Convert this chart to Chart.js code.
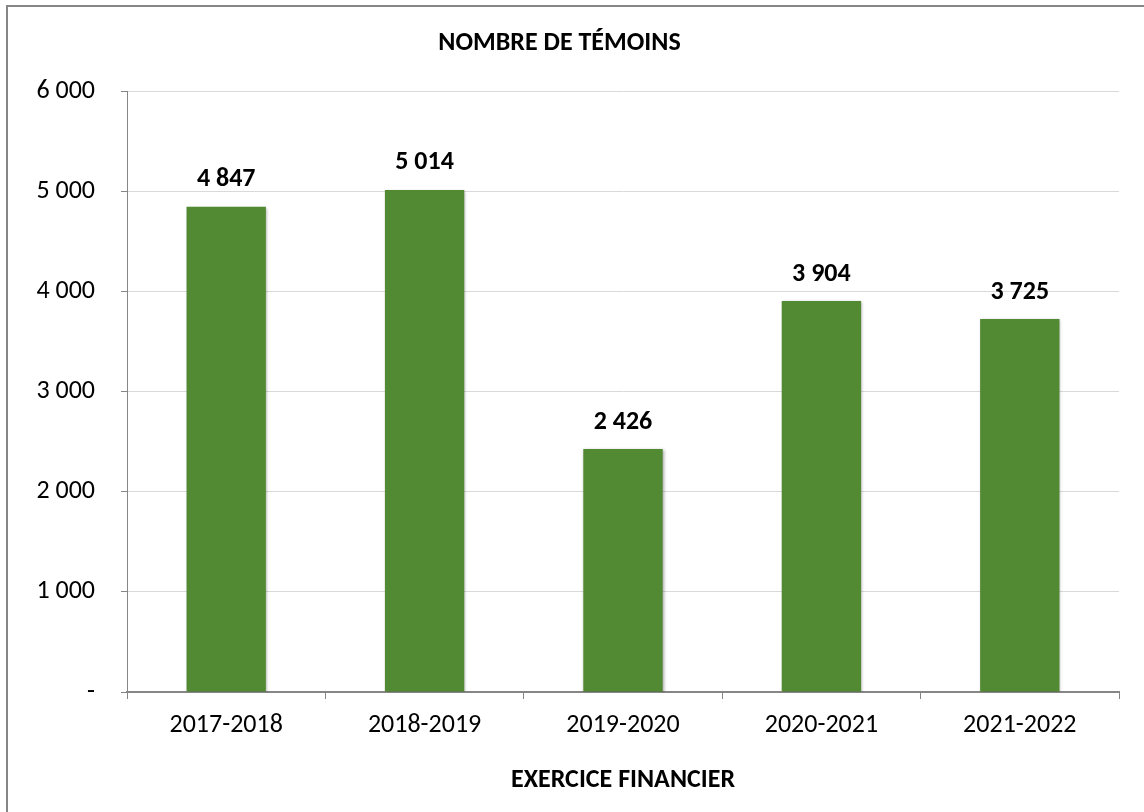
<!DOCTYPE html>
<html>
<head>
<meta charset="utf-8">
<script src="https://cdn.jsdelivr.net/npm/chart.js@4/dist/chart.umd.min.js"></script>
<style>
    html, body { margin: 0; padding: 0; background: #ffffff; overflow: hidden; }
    #wrap { position: relative; width: 1144px; height: 812px; }
    canvas { display: block; }
</style>
</head>
<body>
<div id="wrap"><canvas id="temoinsChart" width="1144" height="812"></canvas></div>
<script>
const categories = ['2017-2018', '2018-2019', '2019-2020', '2020-2021', '2021-2022'];
const temoins = [4847, 5014, 2426, 3904, 3725];
const yTicks = [0, 1000, 2000, 3000, 4000, 5000, 6000];

const chartTitle = 'NOMBRE DE TÉMOINS';
const xTitle = 'EXERCICE FINANCIER';

const fontFamily = "Carlito, 'Open Sans', sans-serif";
const barColor = '#528a33';

// format "4 847" (espace comme séparateur de milliers)
function formatNombre(v) {
    return String(v).replace(/\B(?=(\d{3})+(?!\d))/g, ' ');
}

// cadre gris (seuls les bords haut et gauche sont visibles)
const framePlugin = {
    id: 'frame',
    beforeDraw(chart) {
        const ctx = chart.ctx;
        ctx.save();
        ctx.fillStyle = '#ffffff';
        ctx.fillRect(0, 0, chart.width, chart.height);
        ctx.strokeStyle = '#868686';
        ctx.lineWidth = 2;
        ctx.beginPath();
        ctx.moveTo(7, chart.height);
        ctx.lineTo(7, 6);
        ctx.lineTo(chart.width, 6);
        ctx.stroke();
        ctx.restore();
    }
};

// petite ombre sous les barres
const shadowPlugin = {
    id: 'barShadow',
    beforeDatasetsDraw(chart) {
        const ctx = chart.ctx;
        ctx.save();
        ctx.shadowColor = 'rgba(0, 0, 0, 0.35)';
        ctx.shadowBlur = 3;
        ctx.shadowOffsetX = 1;
        ctx.shadowOffsetY = 1;
    },
    afterDatasetsDraw(chart) {
        chart.ctx.restore();
    }
};

// étiquettes de valeur au-dessus des barres
const valueLabels = {
    id: 'valueLabels',
    afterDatasetsDraw(chart) {
        const ctx = chart.ctx;
        const meta = chart.getDatasetMeta(0);
        ctx.save();
        ctx.font = 'bold 26px ' + fontFamily;
        ctx.fillStyle = '#000000';
        ctx.textAlign = 'center';
        ctx.textBaseline = 'middle';
        meta.data.forEach((bar, i) => {
            ctx.fillText(formatNombre(temoins[i]), bar.x, bar.y - 27);
        });
        ctx.restore();
    }
};

const ctx = document.getElementById('temoinsChart').getContext('2d');
new Chart(ctx, {
    type: 'bar',
    data: {
        labels: categories,
        datasets: [{
            label: chartTitle,
            data: temoins,
            backgroundColor: barColor,
            borderWidth: 0,
            categoryPercentage: 1.0,
            barPercentage: 0.4
        }]
    },
    options: {
        responsive: false,
        animation: false,
        layout: {
            padding: { top: 0, left: 0, right: 25, bottom: 0 }
        },
        plugins: {
            legend: { display: false },
            tooltip: { enabled: false },
            title: {
                display: true,
                text: chartTitle,
                color: '#000000',
                font: { family: fontFamily, size: 26, weight: 'bold' },
                padding: { top: 28, bottom: 32 }
            }
        },
        scales: {
            y: {
                min: 0,
                max: 6000,
                afterBuildTicks(scale) {
                    scale.ticks = yTicks.map(v => ({ value: v }));
                },
                afterFit(scale) {
                    scale.width = 127;
                },
                ticks: {
                    color: '#000000',
                    padding: 26,
                    font: { family: fontFamily, size: 26 },
                    callback: v => (v === 0 ? '-' : formatNombre(v))
                },
                grid: {
                    color: '#d9d9d9',
                    tickColor: '#868686',
                    tickLength: 6,
                    lineWidth: 1
                },
                border: { color: '#868686', width: 1 }
            },
            x: {
                afterFit(scale) {
                    scale.height = 120;
                },
                ticks: {
                    color: '#000000',
                    padding: 11,
                    maxRotation: 0,
                    font: { family: fontFamily, size: 26 }
                },
                grid: {
                    offset: true,
                    drawOnChartArea: false,
                    tickColor: '#868686',
                    tickLength: 7
                },
                border: { color: '#868686', width: 2 },
                title: {
                    display: true,
                    text: xTitle,
                    color: '#000000',
                    font: { family: fontFamily, size: 26, weight: 'bold' },
                    padding: { top: 0, bottom: 16 }
                }
            }
        }
    },
    plugins: [framePlugin, shadowPlugin, valueLabels]
});
</script>
</body>
</html>
